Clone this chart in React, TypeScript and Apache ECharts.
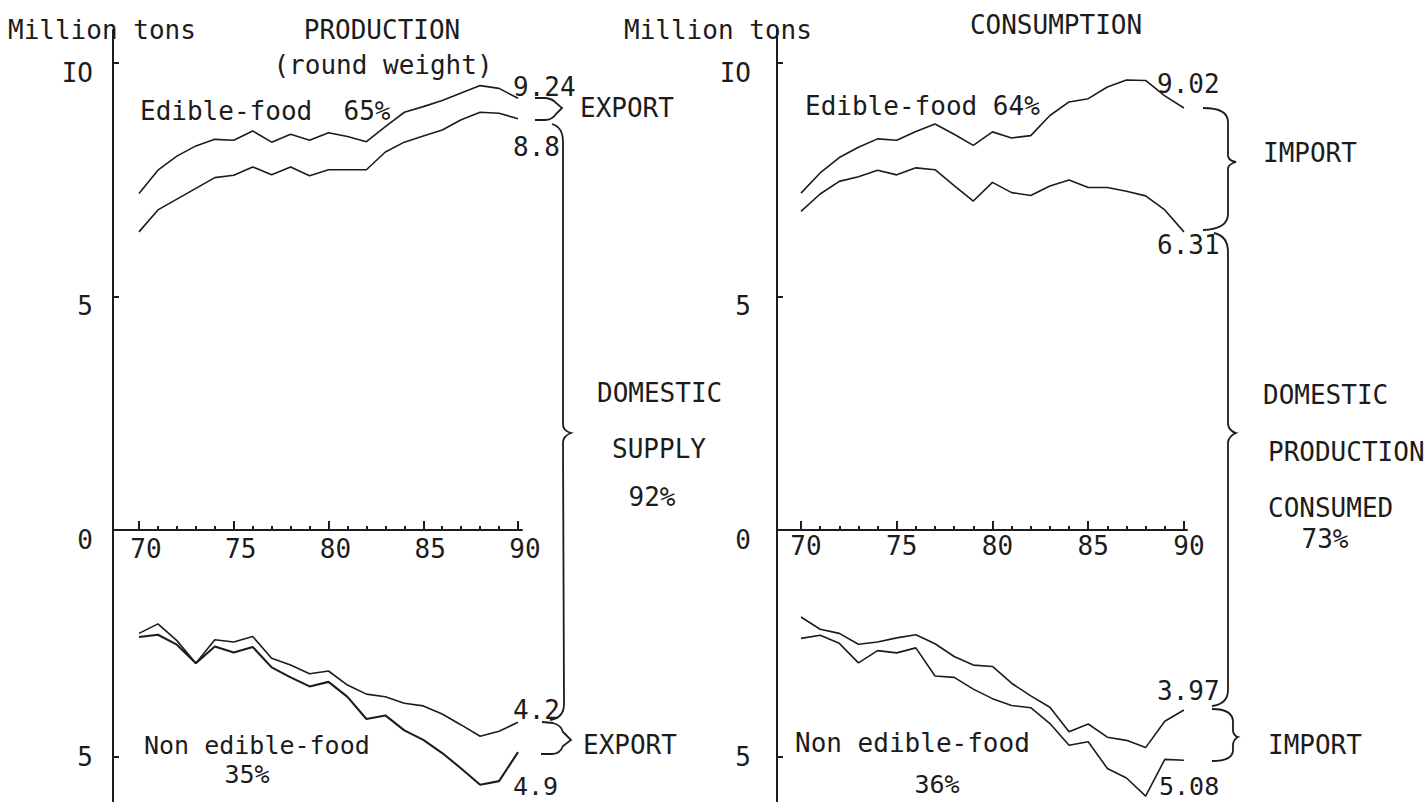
import React, { useEffect, useRef } from "react";
import * as echarts from "echarts";

// ---------- data ----------
const years = [70, 71, 72, 73, 74, 75, 76, 77, 78, 79, 80, 81, 82, 83, 84, 85, 86, 87, 88, 89, 90];
const xMajorTicks = [70, 75, 80, 85, 90];
const yUpperLabels = [0, 5, 10];
const yUpperTicks = [5, 10];
const yLowerLabels = [5];

// PRODUCTION (left)
const prodEdibleTotal = [7.2, 7.7, 8.0, 8.22, 8.36, 8.34, 8.54, 8.3, 8.47, 8.34, 8.5, 8.42, 8.31, 8.63, 8.94, 9.06, 9.19, 9.35, 9.51, 9.45, 9.24];
const prodEdibleDomestic = [6.38, 6.85, 7.08, 7.31, 7.54, 7.59, 7.77, 7.6, 7.77, 7.58, 7.71, 7.71, 7.71, 8.09, 8.3, 8.43, 8.56, 8.78, 8.94, 8.92, 8.8];
const prodNonEdibleDomestic = [2.28, 2.07, 2.44, 2.94, 2.42, 2.47, 2.35, 2.83, 2.98, 3.17, 3.11, 3.42, 3.62, 3.68, 3.82, 3.88, 4.06, 4.3, 4.55, 4.44, 4.24];
const prodNonEdibleTotal = [2.36, 2.31, 2.53, 2.94, 2.57, 2.7, 2.58, 3.03, 3.25, 3.45, 3.35, 3.68, 4.17, 4.09, 4.42, 4.63, 4.92, 5.26, 5.62, 5.54, 4.9];

// CONSUMPTION (right)
const consEdibleTotal = [7.21, 7.64, 7.97, 8.19, 8.37, 8.34, 8.53, 8.69, 8.47, 8.23, 8.52, 8.39, 8.44, 8.87, 9.16, 9.23, 9.48, 9.63, 9.62, 9.29, 9.03];
const consEdibleDomestic = [6.82, 7.19, 7.46, 7.56, 7.7, 7.6, 7.75, 7.71, 7.37, 7.04, 7.44, 7.22, 7.16, 7.36, 7.49, 7.33, 7.33, 7.25, 7.15, 6.85, 6.38];
const consNonEdibleDomestic = [1.92, 2.19, 2.28, 2.52, 2.47, 2.38, 2.31, 2.51, 2.79, 2.98, 3.01, 3.38, 3.66, 3.91, 4.45, 4.28, 4.57, 4.64, 4.8, 4.22, 3.97];
const consNonEdibleTotal = [2.39, 2.32, 2.5, 2.93, 2.66, 2.71, 2.6, 3.22, 3.25, 3.51, 3.72, 3.87, 3.92, 4.27, 4.75, 4.67, 5.26, 5.47, 5.87, 5.06, 5.08];

// ---------- style ----------
const FONT = "DejaVu Sans Mono";
const INK = "#1c1c1c";
const FS = 26;

const BRACES: Record<string, string> = {
  braceExportTop: "M535,98 L546,98 Q553,99 556,103 L562,108 L556,114 Q552,120 545,120 L535,120",
  braceSupply: "M552,124 Q563,127 563,142 L563,424 Q563,431 571,433 Q563,436 563,443 L564,704 Q564,718 550,720",
  braceExportBottom: "M542,722 L553,723 Q561,725 563,732 L571,740 L563,746 Q560,754 552,754 L541,754",
  braceImportTop: "M1203,108 Q1228,108 1228,122 L1228,156 Q1229,161 1236,162 Q1229,164 1228,168 L1228,214 Q1228,229 1203,230",
  braceConsumed: "M1214,233 Q1228,236 1228,252 L1228,424 Q1229,431 1236,433 Q1229,436 1228,442 L1228,690 Q1228,704 1212,706",
  braceImportBottom: "M1212,709 Q1233,709 1233,722 L1233,731 Q1234,736 1238,737 Q1234,739 1233,744 L1233,750 Q1233,761 1212,761",
};

function pairs(vals: number[]) {
  return years.map((y, i) => [y, vals[i]]);
}

function txt(text: string, x: number, y: number, align: string = "left", size: number = FS) {
  return {
    type: "text",
    x,
    y,
    silent: true,
    style: {
      text,
      fontSize: size,
      fontFamily: FONT,
      fill: INK,
      align,
      verticalAlign: "middle",
      textAlign: align,
      textVerticalAlign: "middle",
    },
  };
}

const axisLineStyle = { color: INK, width: 2 };
const labelFont = { fontFamily: FONT, fontSize: FS, color: INK };

function upperX(gridIndex: number, min: number, max: number, margin: number, padLeft: number) {
  return [
    {
      type: "value",
      gridIndex,
      min,
      max,
      position: "bottom",
      axisLine: { show: true, onZero: false, lineStyle: axisLineStyle },
      axisTick: { show: true, inside: true, length: 4, customValues: years, lineStyle: { color: INK, width: 2 } },
      axisLabel: {
        show: true,
        customValues: xMajorTicks,
        formatter: (v: number) => String(v),
        margin,
        padding: [0, 0, 0, padLeft],
        ...labelFont,
      },
      splitLine: { show: false },
    },
    {
      type: "value",
      gridIndex,
      min,
      max,
      position: "bottom",
      axisLine: { show: false },
      axisTick: { show: true, inside: true, length: 9, customValues: xMajorTicks, lineStyle: { color: INK, width: 2 } },
      axisLabel: { show: false },
      splitLine: { show: false },
    },
  ];
}

function lowerX(gridIndex: number, min: number, max: number) {
  return { type: "value", gridIndex, min, max, show: false, splitLine: { show: false } };
}

function upperY(gridIndex: number, margin: number) {
  return {
    type: "value",
    gridIndex,
    min: 0,
    max: 10.7,
    axisLine: { show: true, onZero: false, lineStyle: axisLineStyle },
    axisTick: { show: true, inside: true, length: 6, customValues: yUpperTicks, lineStyle: { color: INK, width: 2 } },
    axisLabel: {
      show: true,
      customValues: yUpperLabels,
      formatter: (v: number) => (v === 10 ? "IO" : String(v)),
      margin,
      verticalAlign: "top",
      lineHeight: 20,
      ...labelFont,
    },
    splitLine: { show: false },
  };
}

function lowerY(gridIndex: number, margin: number) {
  return {
    type: "value",
    gridIndex,
    min: 0,
    max: 6,
    inverse: true,
    axisLine: { show: true, onZero: false, lineStyle: axisLineStyle },
    axisTick: { show: true, inside: true, length: 6, customValues: yLowerLabels, lineStyle: { color: INK, width: 2 } },
    axisLabel: {
      show: true,
      customValues: yLowerLabels,
      formatter: (v: number) => String(v),
      margin,
      ...labelFont,
    },
    splitLine: { show: false },
  };
}

function line(xAxisIndex: number, yAxisIndex: number, vals: number[], width = 1.6) {
  return {
    type: "line",
    xAxisIndex,
    yAxisIndex,
    data: pairs(vals),
    symbol: "none",
    silent: true,
    lineStyle: { color: INK, width },
  };
}

export default function App() {
  const ref = useRef<HTMLDivElement>(null);

  useEffect(() => {
    Object.keys(BRACES).forEach((name) => {
      echarts.graphic.registerShape(name, echarts.graphic.extendPath(BRACES[name], {}));
    });
    const chart = echarts.init(ref.current as HTMLDivElement, null, { renderer: "svg" });

    const LMIN = 68.628, LMAX = 90.21;
    const RMIN = 68.747, RMAX = 90.16;

    const option: any = {
      animation: false,
      backgroundColor: "#ffffff",
      grid: [
        { left: 113, top: 30, width: 409, height: 500, outerBoundsMode: "none" },
        { left: 113, top: 530, width: 409, height: 272, outerBoundsMode: "none" },
        { left: 777, top: 30, width: 410, height: 500, outerBoundsMode: "none" },
        { left: 777, top: 530, width: 410, height: 272, outerBoundsMode: "none" },
      ],
      xAxis: [
        ...upperX(0, LMIN, LMAX, 6, 14),
        lowerX(1, LMIN, LMAX),
        ...upperX(2, RMIN, RMAX, 3, 10),
        lowerX(3, RMIN, RMAX),
      ],
      yAxis: [upperY(0, 20), lowerY(1, 20), upperY(2, 26), lowerY(3, 26)],
      series: [
        line(0, 0, prodEdibleTotal),
        line(0, 0, prodEdibleDomestic),
        line(2, 1, prodNonEdibleDomestic),
        line(2, 1, prodNonEdibleTotal, 2.1),
        line(3, 2, consEdibleTotal),
        line(3, 2, consEdibleDomestic),
        line(5, 3, consNonEdibleDomestic),
        line(5, 3, consNonEdibleTotal),
      ],
      graphic: [
        // left panel texts
        txt("Million tons", 8, 30),
        txt("PRODUCTION", 382, 30, "center"),
        txt("(round weight)", 383, 65, "center"),
        txt("Edible-food  65%", 140, 111),
        txt("9.24", 513, 87),
        txt("EXPORT", 580, 108),
        txt("8.8", 513, 147),
        txt("DOMESTIC", 597, 393),
        txt("SUPPLY", 659, 449, "center"),
        txt("92%", 652, 497, "center"),
        txt("4.2", 513, 710),
        txt("4.9", 513, 786, "left", 25),
        txt("EXPORT", 583, 745),
        txt("Non edible-food", 144, 745, "left", 25),
        txt("35%", 247, 774, "center", 25),
        // right panel texts
        txt("Million tons", 624, 30),
        txt("CONSUMPTION", 1056, 25, "center"),
        txt("Edible-food 64%", 805, 106),
        txt("9.02", 1157, 84),
        txt("IMPORT", 1263, 153),
        txt("6.31", 1157, 245),
        txt("DOMESTIC", 1263, 395),
        txt("PRODUCTION", 1268, 452),
        txt("CONSUMED", 1268, 508),
        txt("73%", 1325, 539, "center"),
        txt("3.97", 1157, 691),
        txt("IMPORT", 1268, 745),
        txt("5.08", 1159, 786, "left", 25),
        txt("Non edible-food", 795, 743),
        txt("36%", 937, 784, "center", 25),
        // braces
        ...Object.keys(BRACES).map((name) => ({
          type: name,
          silent: true,
          style: { stroke: INK, fill: "none", lineWidth: 1.8 },
        })),
      ],
    };

    chart.setOption(option);
    return () => {
      chart.dispose();
    };
  }, []);

  return (
    <div
      ref={ref}
      style={{ position: "fixed", left: 0, top: 0, width: 1427, height: 802, background: "#ffffff" }}
    />
  );
}
